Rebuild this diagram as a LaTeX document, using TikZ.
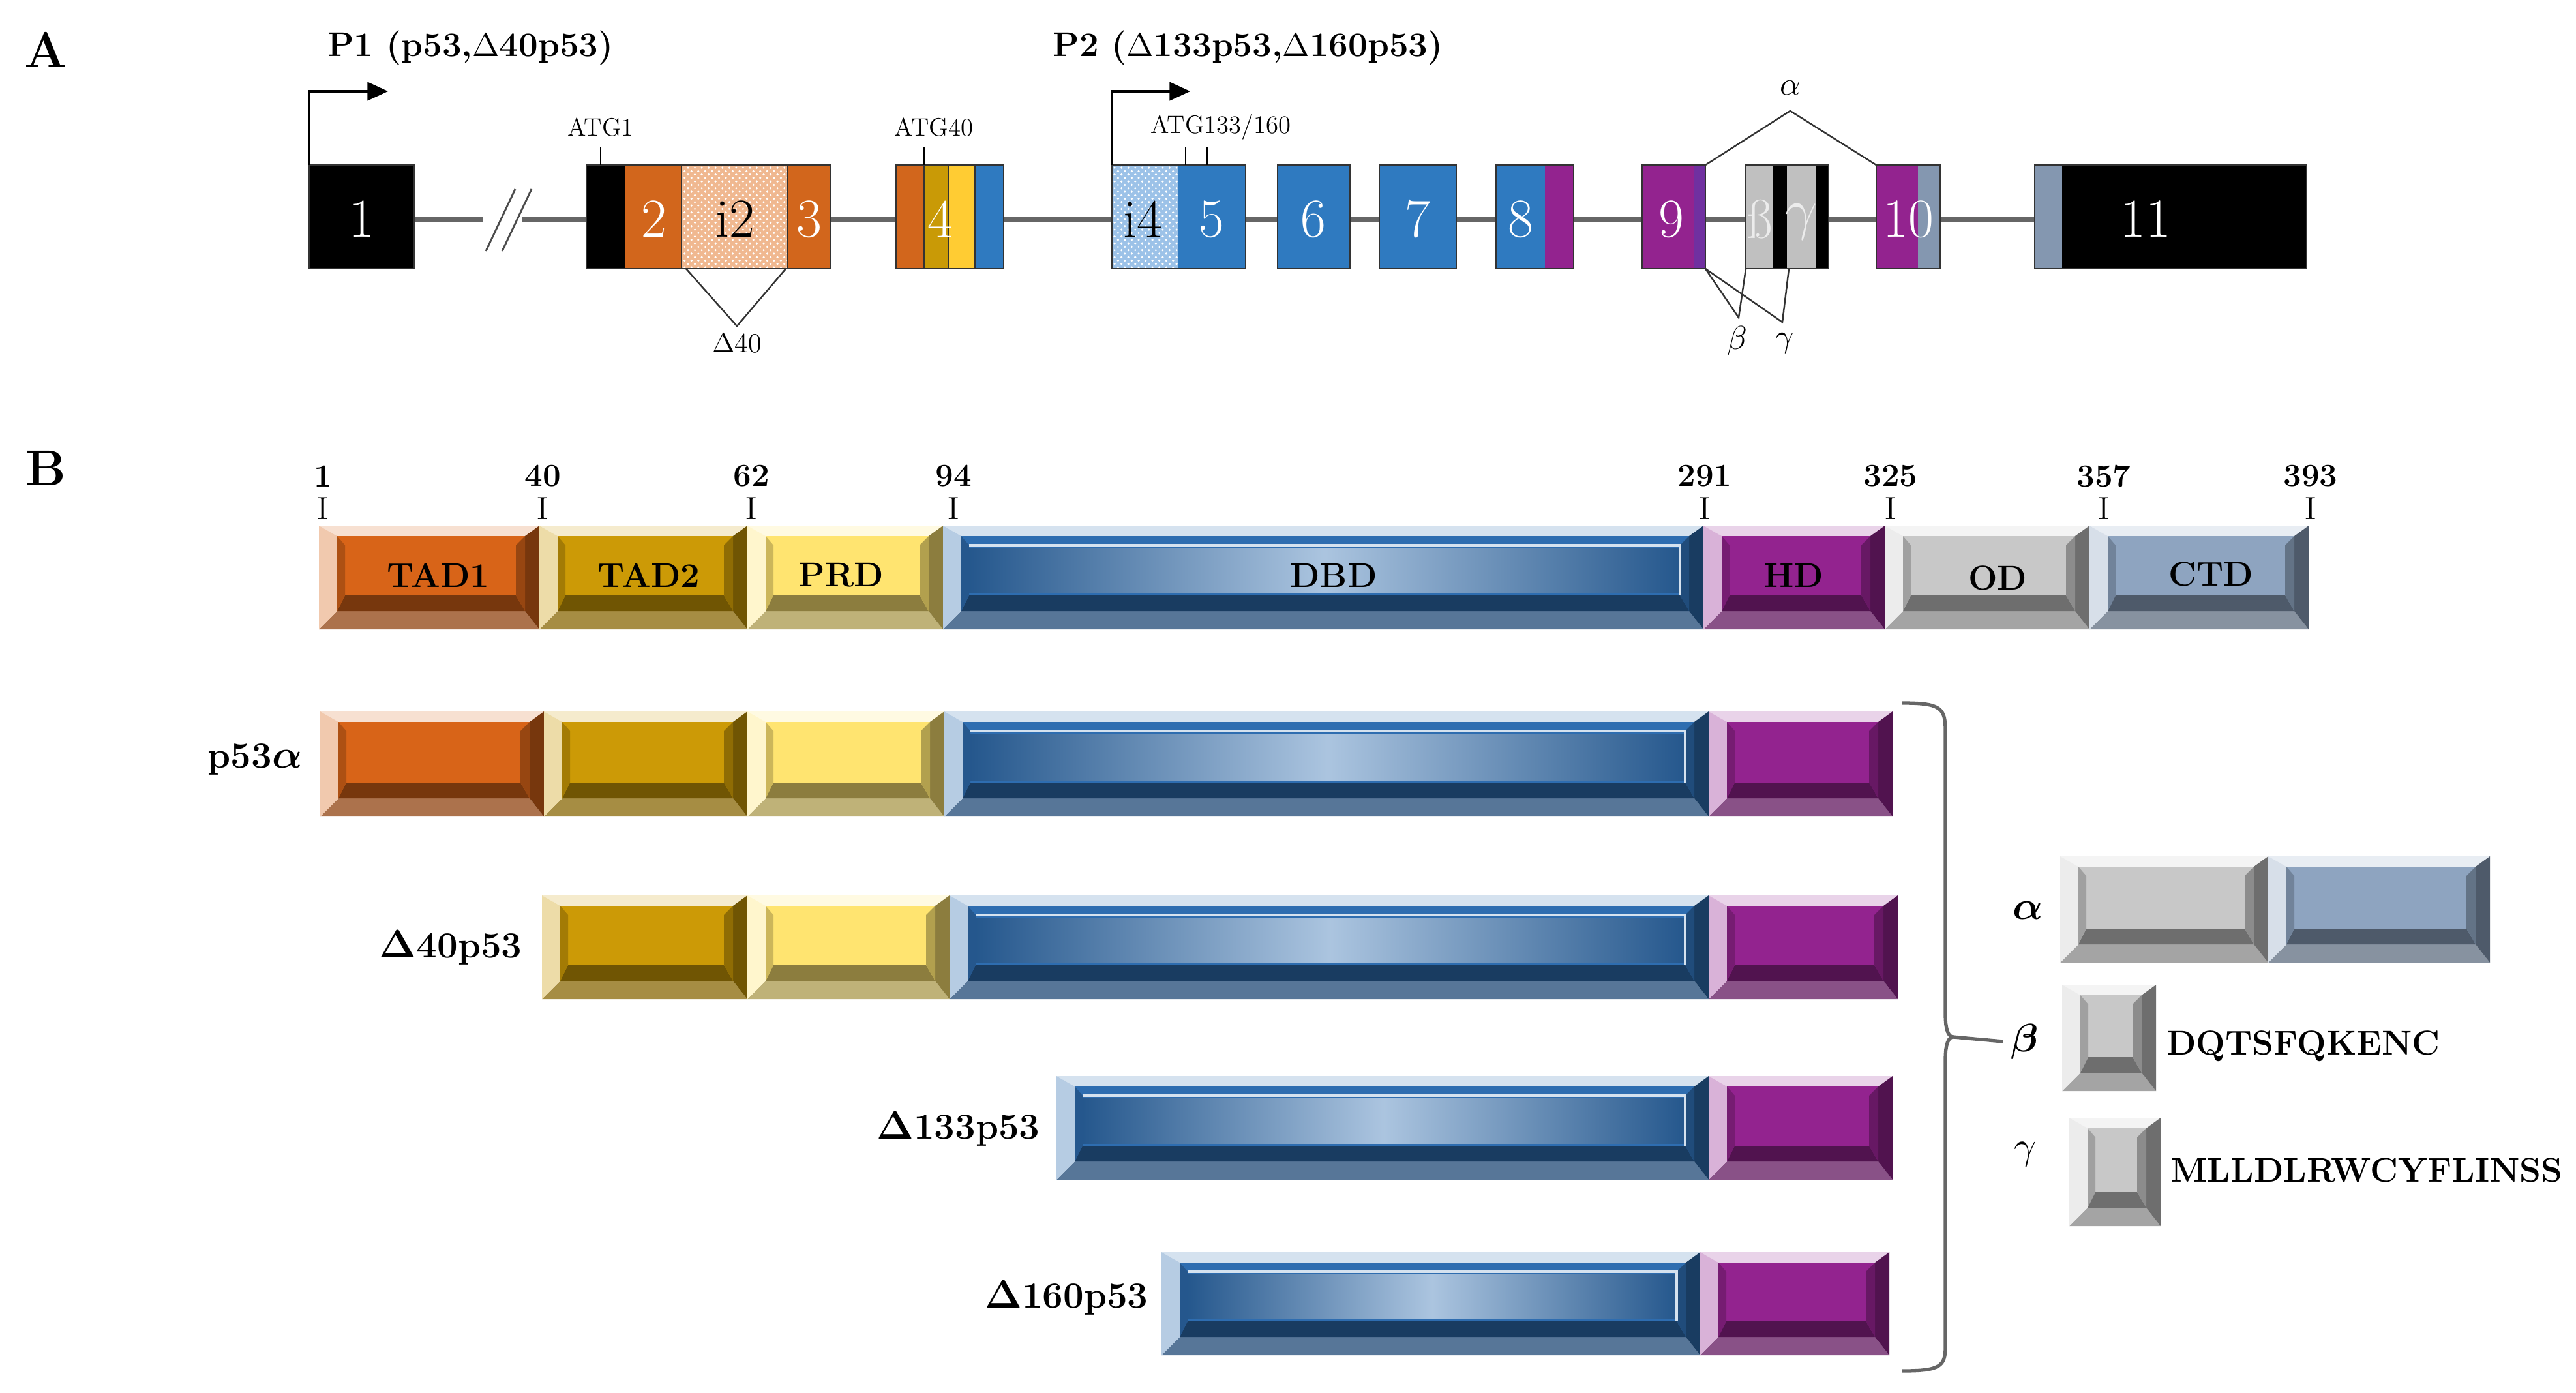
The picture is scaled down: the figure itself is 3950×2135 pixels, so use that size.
\documentclass[tikz,border=0pt]{standalone}
\usepackage{amsmath}
\usepackage{tikz}
\usetikzlibrary{arrows.meta}
\usetikzlibrary{patterns}

\definecolor{exOrange}{HTML}{D2661C}
\definecolor{exBlue}{HTML}{2F7AC0}
\definecolor{exPurple}{HTML}{93238F}
\definecolor{exViolet}{HTML}{7030A0}
\definecolor{exGrey}{HTML}{C0C0C0}
\definecolor{exSteel}{HTML}{8497B0}
\definecolor{exDkYellow}{HTML}{C99A06}
\definecolor{exLtYellow}{HTML}{FFCC33}
\definecolor{intOrange}{HTML}{F0B890}
\definecolor{intBlue}{HTML}{9CC2E8}
\definecolor{domTADa}{HTML}{D86418}
\definecolor{domTADb}{HTML}{CC9A06}
\definecolor{domPRD}{HTML}{FFE470}
\definecolor{domDBD}{HTML}{2E6DB0}
\definecolor{domHD}{HTML}{93238F}
\definecolor{domOD}{HTML}{C8C8C8}
\definecolor{domCTD}{HTML}{8EA4C0}

% bevelled protein box: x1, y1, x2, y2, colour
\newcommand{\bevbox}[5]{%
  \fill[#5!50!gray] (#1,#4) -- (#3,#4) -- (#3-22,#4-28) -- (#1+28,#4-28) -- cycle;
  \fill[#5!20!white] (#1,#2) -- (#3,#2) -- (#3-22,#2+16) -- (#1+28,#2+16) -- cycle;
  \fill[#5!35!white] (#1,#2) -- (#1+28,#2+16) -- (#1+28,#4-28) -- (#1,#4) -- cycle;
  \fill[#5!55!black] (#3,#2) -- (#3-22,#2+16) -- (#3-22,#4-28) -- (#3,#4) -- cycle;
  \fill[#5] (#1+28,#2+16) rectangle (#3-22,#4-28);
  \fill[#5!55!black] (#1+28,#4-28) -- (#3-22,#4-28) -- (#3-36,#4-52) -- (#1+40,#4-52) -- cycle;
  \fill[#5!70!black] (#3-22,#2+16) -- (#3-22,#4-28) -- (#3-36,#4-52) -- (#3-36,#2+30) -- cycle;
  \fill[#5!80!black] (#1+28,#2+16) -- (#1+40,#2+30) -- (#1+40,#4-52) -- (#1+28,#4-28) -- cycle;
}
\newcommand{\dbdbox}[4]{%
  \bevbox{#1}{#2}{#3}{#4}{domDBD}
  \shade[left color=domDBD!80!black, right color=domDBD!80!black, middle color=domDBD!40!white]
    (#1+40,#2+34) rectangle (#3-36,#4-56);
  \draw[white!80!domDBD, line width=1.2pt] (#1+40,#2+30) -- (#3-36,#2+30) -- (#3-36,#4-52);
}

\tikzset{
  exnum/.style={text=white, font=\fontsize{24}{24}\selectfont},
  atg/.style={font=\fontsize{11}{11}\selectfont},
  prom/.style={font=\bfseries\fontsize{15}{15}\selectfont, anchor=west},
  resnum/.style={font=\bfseries\fontsize{14}{14}\selectfont},
  dom/.style={font=\bfseries\fontsize{15}{15}\selectfont},
  iso/.style={font=\bfseries\fontsize{16}{16}\selectfont, anchor=east},
  seq/.style={font=\bfseries\fontsize{15}{15}\selectfont, anchor=west},
  splice/.style={draw=black!80, line width=0.7pt},
}

\begin{document}
\begin{tikzpicture}[x=0.01cm, y=-0.01cm]
\useasboundingbox (0,0) rectangle (3950,2135);

\node[font=\bfseries\fontsize{22}{22}\selectfont] (panelA) at (70,76) {A};
\node[font=\bfseries\fontsize{22}{22}\selectfont] (panelB) at (70,718) {B};

% ---------- A: gene ----------
\coordinate (lineL) at (635,336);
\coordinate (lineR) at (3120,336);
\draw[black!60, line width=2pt] (lineL) -- (lineR);
\fill[white] (740,300) rectangle (800,370);
\draw[black!70, line width=0.8pt] (745,385) -- (790,290) (770,385) -- (815,290);

\fill[black] (474,253) rectangle (635,412);
\fill[black] (899,253) rectangle (959,412);
\fill[exOrange] (959,253) rectangle (1045,412);
\fill[intOrange] (1045,253) rectangle (1208,412);
\fill[pattern=crosshatch dots, pattern color=white] (1045,253) rectangle (1208,412);
\fill[exOrange] (1208,253) rectangle (1273,412);
\draw[black!80, line width=0.5pt] (1045,253) rectangle (1208,412);

\fill[exOrange] (1374,253) rectangle (1417,412);
\fill[exDkYellow] (1417,253) rectangle (1454,412);
\fill[exLtYellow] (1454,253) rectangle (1495,412);
\fill[exBlue] (1495,253) rectangle (1539,412);
\draw[black!80, line width=0.5pt] (1417,253) -- (1417,412) (1454,253) -- (1454,412) (1495,253) -- (1495,412);

\fill[intBlue] (1705,253) rectangle (1807,412);
\fill[pattern=crosshatch dots, pattern color=white] (1705,253) rectangle (1807,412);
\fill[exBlue] (1807,253) rectangle (1910,412);
\fill[exBlue] (1959,253) rectangle (2070,412);
\fill[exBlue] (2115,253) rectangle (2233,412);
\fill[exBlue] (2294,253) rectangle (2369,412);
\fill[exPurple] (2369,253) rectangle (2413,412);
\fill[exPurple] (2518,253) rectangle (2597,412);
\fill[exViolet] (2597,253) rectangle (2615,412);
\fill[black] (2677,253) rectangle (2804,412);
\fill[exGrey] (2677,253) rectangle (2718,412);
\fill[exGrey] (2740,253) rectangle (2784,412);
\fill[exPurple] (2877,253) rectangle (2941,412);
\fill[exSteel] (2941,253) rectangle (2975,412);
\fill[black] (3120,253) rectangle (3537,412);
\fill[exSteel] (3120,253) rectangle (3162,412);
\foreach \xa/\xb in {474/635, 899/1273, 1374/1539, 1705/1910, 1959/2070, 2115/2233,
                     2294/2413, 2518/2615, 2677/2804, 2877/2975, 3120/3537}
  \draw[black!80, line width=0.6pt] (\xa,253) rectangle (\xb,412);

\node[exnum] (e1) at (555,336) {1};
\node[exnum] (e2) at (1003,336) {2};
\node[exnum, text=black] (i2) at (1127,336) {i2};
\node[exnum] (e3) at (1241,336) {3};
\node[exnum] (e4) at (1442,336) {4};
\node[exnum, text=black] (i4) at (1752,336) {i4};
\node[exnum] (e5) at (1858,336) {5};
\node[exnum] (e6) at (2014,336) {6};
\node[exnum] (e7) at (2174,336) {7};
\node[exnum] (e8) at (2332,336) {8};
\node[exnum] (e9) at (2563,336) {9};
\node[exnum, text=white!85!gray] (eb) at (2698,336) {ß};
\node[exnum, text=white!85!gray] (eg) at (2762,340) {$\gamma$};
\node[exnum] (e10) at (2926,336) {10};
\node[exnum] (e11) at (3290,336) {11};

% promoters
\coordinate (p1base) at (474,253);
\coordinate (p1turn) at (474,140);
\coordinate (p1tip) at (595,140);
\draw[line width=1pt, -{Triangle[length=9pt,width=8pt]}] (p1base) -- (p1turn) -- (p1tip);
\node[prom] (p1) at (490,73) {P1 (p53,$\Delta$40p53)};
\coordinate (p2base) at (1705,253);
\coordinate (p2turn) at (1705,140);
\coordinate (p2tip) at (1825,140);
\draw[line width=1pt, -{Triangle[length=9pt,width=8pt]}] (p2base) -- (p2turn) -- (p2tip);
\node[prom] (p2) at (1602,73) {P2 ($\Delta$133p53,$\Delta$160p53)};

% start codons
\node[atg] (atg1) at (921,195) {ATG1};
\draw (921,226) -- (921,253);
\node[atg] (atg40) at (1432,195) {ATG40};
\draw (1417,226) -- (1417,253);
\node[atg] (atg133) at (1872,195) {ATG133/160};
\draw (1818,226) -- (1818,253) (1851,226) -- (1851,253);

% splicing
\coordinate (d40) at (1130,500);
\node[atg, font=\fontsize{12}{12}\selectfont] (d40lab) at (1130,527) {$\Delta$40};
\draw[splice] (1052,412) -- (d40) -- (1205,412);
\coordinate (alphaApex) at (2745,170);
\node[atg, font=\fontsize{14}{14}\selectfont] (alab) at (2745,135) {$\alpha$};
\draw[splice] (2615,253) -- (alphaApex) -- (2877,253);
\coordinate (betaApex) at (2666,487);
\coordinate (gammaApex) at (2733,494);
\node[atg, font=\fontsize{14}{14}\selectfont] (blab) at (2664,523) {$\beta$};
\node[atg, font=\fontsize{14}{14}\selectfont] (glab) at (2737,527) {$\gamma$};
\draw[splice] (2615,412) -- (betaApex) -- (2677,412);
\draw[splice] (2615,412) -- (gammaApex) -- (2743,412);

% ---------- B: protein ----------
\foreach \x/\n in {495/1, 832/40, 1152/62, 1462/94, 2614/291, 2899/325, 3226/357, 3543/393} {
  \node[resnum] at (\x,730) {\n};
  \node[resnum, font=\fontsize{14}{14}\selectfont] at (\x,780) {I};
}
\bevbox{489}{806}{827}{965}{domTADa}
\bevbox{827}{806}{1146}{965}{domTADb}
\bevbox{1146}{806}{1446}{965}{domPRD}
\dbdbox{1446}{806}{2612}{965}
\bevbox{2612}{806}{2890}{965}{domHD}
\bevbox{2890}{806}{3204}{965}{domOD}
\bevbox{3204}{806}{3540}{965}{domCTD}
\node[dom] (tad1) at (672,882) {TAD1};
\node[dom] (tad2) at (995,882) {TAD2};
\node[dom] (prd) at (1290,882) {PRD};
\node[dom] (dbd) at (2045,882) {DBD};
\node[dom] (hd) at (2750,882) {HD};
\node[dom] (od) at (3063,886) {OD};
\node[dom] (ctd) at (3390,880) {CTD};

% isoforms
\bevbox{491}{1091}{834}{1252}{domTADa}
\bevbox{834}{1091}{1146}{1252}{domTADb}
\bevbox{1146}{1091}{1448}{1252}{domPRD}
\dbdbox{1448}{1091}{2620}{1252}
\bevbox{2620}{1091}{2902}{1252}{domHD}
\node[iso] (pa) at (476,1164) {p53$\boldsymbol{\alpha}$};

\bevbox{831}{1373}{1146}{1532}{domTADb}
\bevbox{1146}{1373}{1456}{1532}{domPRD}
\dbdbox{1456}{1373}{2620}{1532}
\bevbox{2620}{1373}{2910}{1532}{domHD}
\node[iso] (d40p) at (813,1453) {$\boldsymbol{\Delta}$40p53};

\dbdbox{1620}{1650}{2620}{1809}
\bevbox{2620}{1650}{2902}{1809}{domHD}
\node[iso] (d133) at (1607,1731) {$\boldsymbol{\Delta}$133p53};

\dbdbox{1781}{1920}{2607}{2078}
\bevbox{2607}{1920}{2897}{2078}{domHD}
\node[iso] (d160) at (1773,1990) {$\boldsymbol{\Delta}$160p53};

% C-terminal variants
\coordinate (braceTip) at (2995,1590);
\draw[black!60, line width=1.5pt] (2917,1078) .. controls (2975,1078) and (2983,1085) .. (2983,1120)
  -- (2983,1555) .. controls (2983,1580) and (2988,1590) .. (braceTip)
  .. controls (2988,1590) and (2983,1600) .. (2983,1625)
  -- (2983,2065) .. controls (2983,2095) and (2975,2102) .. (2917,2102);
\node[iso, anchor=center, font=\bfseries\fontsize{16}{16}\selectfont] (alpha) at (3110,1396) {$\boldsymbol{\alpha}$};
\node[iso, anchor=center] (beta) at (3105,1597) {$\boldsymbol{\beta}$};
\node[iso, anchor=center, font=\fontsize{16}{16}\selectfont] (gamma) at (3106,1770) {$\gamma$};
\draw[black!60, line width=1.5pt] (braceTip) -- (beta.west);

\bevbox{3159}{1313}{3478}{1476}{domOD}
\bevbox{3478}{1313}{3818}{1476}{domCTD}
\bevbox{3162}{1510}{3306}{1673}{domOD}
\bevbox{3173}{1714}{3313}{1880}{domOD}
\node[seq] (bseq) at (3310,1604) {DQTSFQKENC};
\node[seq] (gseq) at (3316,1794) {MLLDLRWCYFLINSS};
\end{tikzpicture}
\end{document}
